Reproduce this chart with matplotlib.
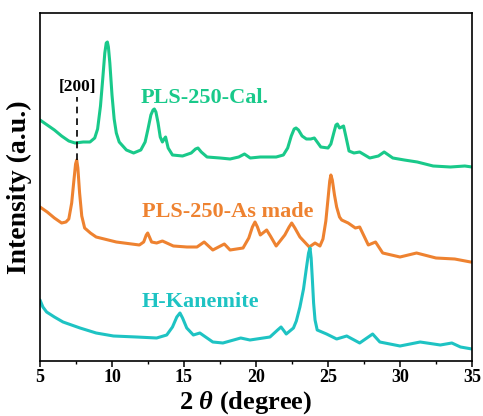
import matplotlib
matplotlib.use("Agg")
import matplotlib.pyplot as plt
from matplotlib.ticker import MultipleLocator

# XRD patterns (stacked, arbitrary intensity units with vertical offsets)
cal_2theta = [5.0, 5.5, 6.0, 6.5, 7.0, 7.43, 8.0, 8.47, 8.8, 9.0, 9.2, 9.35, 9.5, 9.6,
              9.68, 9.75, 9.85, 10.0, 10.15, 10.3, 10.5, 11.0, 11.5, 12.0, 12.3, 12.5,
              12.7, 12.85, 12.94, 13.05, 13.2, 13.35, 13.5, 13.62, 13.72, 13.9, 14.2,
              14.9, 15.5, 15.8, 15.97, 16.2, 16.6, 17.5, 18.2, 18.8, 19.2, 19.6, 20.3,
              21.4, 21.9, 22.2, 22.45, 22.65, 22.78, 22.95, 23.2, 23.5, 23.8, 24.05,
              24.3, 24.5, 25.0, 25.2, 25.4, 25.55, 25.65, 25.8, 25.95, 26.08, 26.25,
              26.46, 26.8, 27.2, 27.9, 28.5, 28.9, 29.5, 30.3, 31.2, 32.3, 33.5, 34.5,
              35.0]
cal_int = [241, 236, 231, 225, 220, 218, 219, 219, 223, 232, 255, 281, 308, 318,
           319, 314, 298, 266, 242, 228, 219, 211, 208, 211, 219, 232,
           246, 251, 252, 249, 238, 224, 219, 222, 224, 213, 206,
           205, 208, 212, 213, 209, 204, 203, 202, 204, 207, 203, 204,
           204, 206, 213, 225, 232, 233, 231, 225, 222, 222, 223,
           218, 214, 213, 217, 228, 236, 237, 233, 234, 235, 224,
           210, 208, 209, 203, 205, 209, 203, 201, 199, 195, 194, 195,
           194]

asm_2theta = [5.0, 5.5, 6.0, 6.5, 6.8, 7.0, 7.2, 7.35, 7.47, 7.55, 7.63, 7.75, 7.9,
              8.1, 8.5, 8.9, 10.3, 11.9, 12.2, 12.38, 12.48, 12.6, 12.75, 13.1, 13.5,
              14.26, 15.2, 15.9, 16.4, 17.0, 17.8, 18.2, 19.1, 19.5, 19.75, 19.93, 20.1,
              20.3, 20.74, 21.0, 21.4, 22.0, 22.3, 22.48, 22.7, 23.05, 23.7, 24.1, 24.44,
              24.65, 24.85, 25.0, 25.12, 25.2, 25.3, 25.45, 25.6, 25.8, 25.95, 26.4,
              26.9, 27.2, 27.5, 27.8, 28.3, 28.8, 30.0, 31.15, 32.5, 33.8, 34.9, 35.0]
asm_int = [154, 149, 143, 138, 139, 142, 158, 180, 197, 201, 193, 168, 145,
           133, 128, 124, 119, 116, 119, 126, 128, 124, 119, 118, 120,
           115, 114, 114, 119, 111, 117, 111, 113, 123, 134, 139, 134,
           126, 131, 125, 115, 126, 134, 138, 133, 124, 114, 118, 115,
           122, 140, 162, 180, 186, 181, 166, 154, 144, 141, 138,
           133, 134, 125, 116, 119, 108, 104, 108, 103, 102, 99, 99]

kan_2theta = [5.0, 5.2, 5.46, 6.0, 6.6, 7.78, 8.9, 10.1, 11.7, 13.1, 13.8, 14.2, 14.5,
              14.72, 14.9, 15.19, 15.65, 16.1, 17.0, 17.7, 18.94, 19.58, 20.97, 21.5,
              21.74, 21.95, 22.1, 22.6, 22.8, 23.05, 23.3, 23.5, 23.65, 23.75, 23.83,
              23.92, 24.0, 24.1, 24.25, 24.9, 25.6, 26.3, 27.2, 27.8, 28.1, 28.6, 30.0,
              31.4, 32.8, 33.6, 34.2, 35.0]
kan_int = [61, 54, 49, 44, 39, 33, 28, 25, 24, 23, 26, 34, 44,
           48, 43, 33, 26, 28, 19, 18, 23, 21, 24, 31,
           34, 30, 27, 33, 40, 54, 72, 93, 108, 113, 103,
           80, 58, 41, 31, 27, 22, 25, 18, 24, 27, 19, 15,
           19, 16, 18, 14, 12]

sample_names = ["PLS-250-Cal.", "PLS-250-As made", "H-Kanemite"]
colors = ["#19C98A", "#EE8230", "#1EC3C3"]
x_ticks = [5, 10, 15, 20, 25, 30, 35]

plt.rcParams["font.family"] = ["Liberation Serif", "DejaVu Serif"]
plt.rcParams["mathtext.fontset"] = "custom"
plt.rcParams["mathtext.it"] = "Liberation Serif:italic:bold"
plt.rcParams["mathtext.rm"] = "Liberation Serif:bold"

fig = plt.figure(figsize=(4.83, 4.16), dpi=100)
ax = fig.add_axes([40 / 483, 55 / 416, 432 / 483, 348 / 416])

series = [(cal_2theta, cal_int), (asm_2theta, asm_int), (kan_2theta, kan_int)]
for (x, y), c in zip(series, colors):
    ax.plot(x, y, color=c, lw=2.2, solid_joinstyle="round", solid_capstyle="round")

# sample labels
label_pos = [(16.46, 263), (18.07, 149), (16.17, 59)]
for name, (lx, ly), c in zip(sample_names, label_pos, colors):
    ax.text(lx, ly, name, color=c, fontsize=16, fontweight="bold",
            ha="center", va="center")

# [200] reflection marker
peak_x = asm_2theta[asm_int.index(max(asm_int))]
ax.plot([peak_x, peak_x], [max(asm_int), 264], color="black", lw=1.2,
        ls=(0, (4, 3)))
ax.text(peak_x + 0.02, 274, "[200]", color="black", fontsize=12.5,
        fontweight="bold", ha="center", va="center")

ax.set_xlim(5, 35)
ax.set_ylim(0, 348)
ax.set_xticks(x_ticks)
ax.set_xticklabels([str(t) for t in x_ticks])
ax.xaxis.set_minor_locator(MultipleLocator(2.5))
ax.set_yticks([])
ax.tick_params(axis="x", which="major", direction="out", length=4, width=1.1,
               labelsize=13, pad=2, top=False)
ax.tick_params(axis="x", which="minor", direction="out", length=2.5, width=1.0,
               top=False)
for lab in ax.get_xticklabels():
    lab.set_fontweight("bold")
for sp in ax.spines.values():
    sp.set_linewidth(1.2)

ax.set_xlabel(r"2 $\theta$ (degree)", fontsize=19, fontweight="bold")
ax.xaxis.set_label_coords(0.475, -0.082, transform=ax.transAxes)
ax.xaxis.label.set_va("top")
ax.set_ylabel("Intensity (a.u.)", fontsize=20, fontweight="bold", labelpad=6)

fig.savefig("out.png", dpi=100)
